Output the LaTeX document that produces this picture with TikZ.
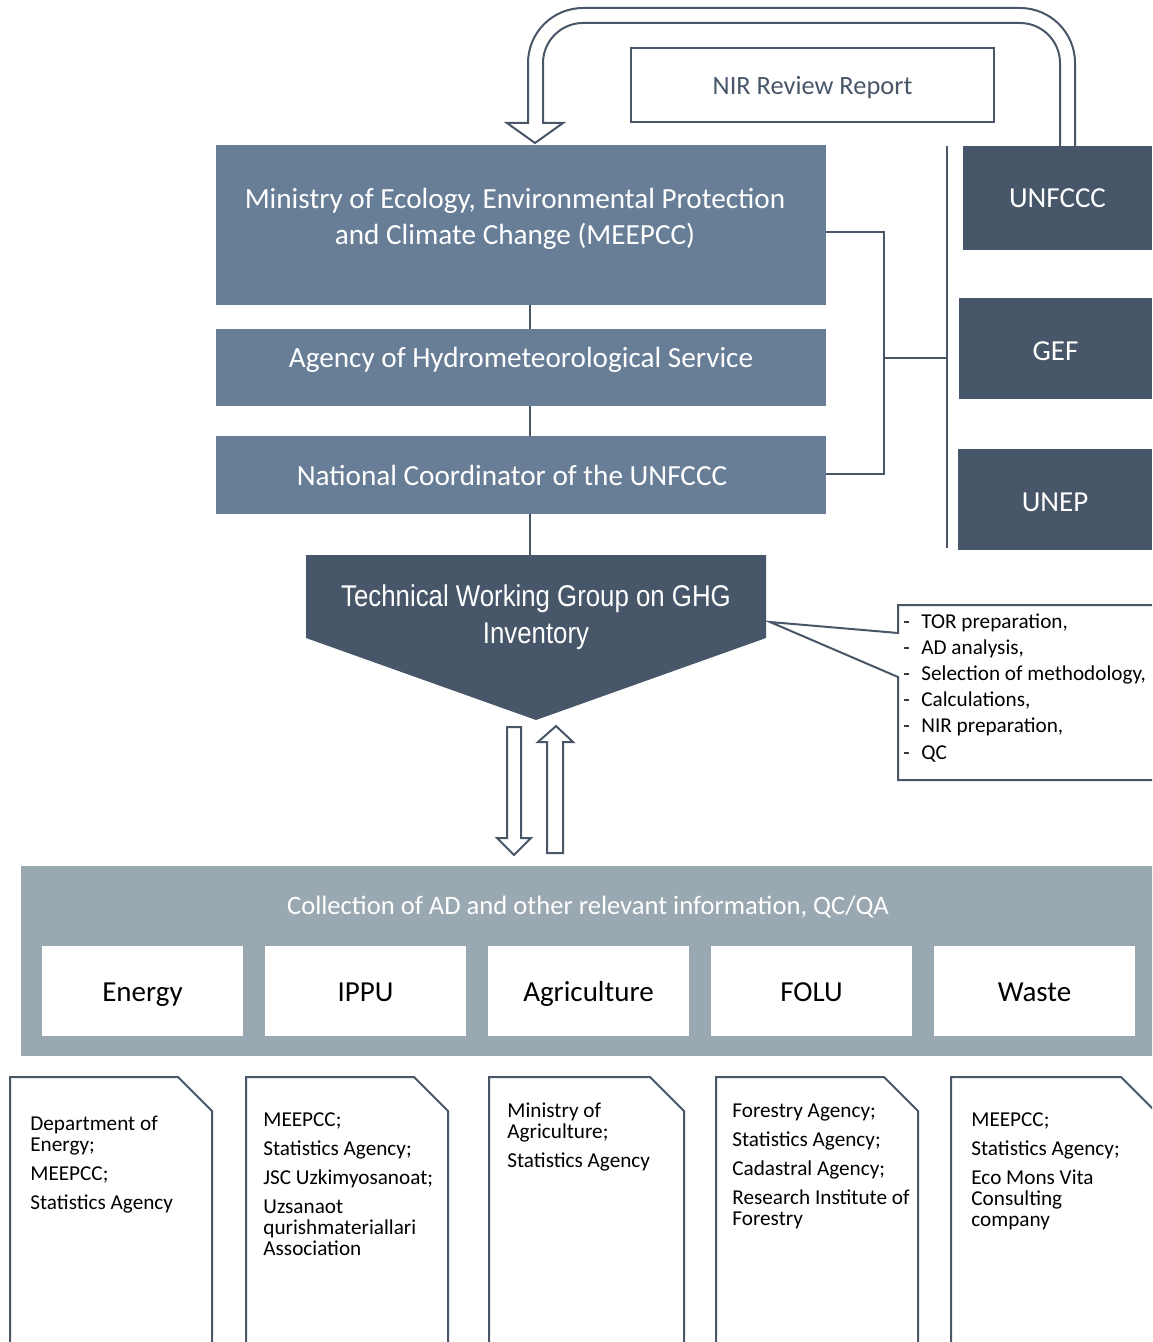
\documentclass[tikz,border=0pt]{standalone}
\usepackage{fontspec}
\setmainfont{Carlito}
\newfontfamily\narrowfont[FakeStretch=0.86]{Liberation Sans}
\usetikzlibrary{positioning}
\definecolor{slate}{RGB}{104,126,151}
\definecolor{darkslate}{RGB}{71,86,104}
\definecolor{panelgrey}{RGB}{154,168,178}
\definecolor{linegrey}{RGB}{72,86,103}

\begin{document}
\begin{tikzpicture}[x=0.5pt,y=-0.5pt,
	conn/.style={draw=linegrey,line width=1.2pt},
	hollow/.style={draw=linegrey,line width=1pt,fill=white},
	midbox/.style={rectangle,fill=slate,minimum width=305pt,inner sep=0pt},
	orgbox/.style={rectangle,fill=darkslate,text=white,inner sep=0pt,font=\fontsize{14.5}{17}\selectfont},
	wtxt/.style={text=white,align=center,font=\fontsize{14.6}{18}\selectfont},
	sector/.style={rectangle,fill=white,minimum width=100.5pt,minimum height=45pt,inner sep=0pt,text height=12pt,text depth=2pt,font=\fontsize{14.5}{17}\selectfont},
	doctxt/.style={anchor=north west,align=left,inner sep=0pt,font=\fontsize{10.6}{10.5}\selectfont},
	docline/.style={draw=linegrey,line width=1pt}]
\useasboundingbox (0,0) rectangle (1152,1342);
\clip (0,0) rectangle (1152,1342);
% national structure
\node[midbox,minimum height=80pt,label={[wtxt,xshift=-3pt,yshift=3.25pt]center:{Ministry of Ecology, Environmental Protection\\and Climate Change (MEEPCC)}}](meepcc) at (521,225){};
\node[midbox,minimum height=38.5pt,label={[wtxt,yshift=4pt]center:{Agency of Hydrometeorological Service}}](hydro) at (521,367.5){};
\node[midbox,minimum height=39pt,label={[wtxt,xshift=-4.5pt,yshift=0pt]center:{National Coordinator of the UNFCCC}}](natco) at (521,475){};
% international partners
\node[orgbox,minimum width=94.5pt,minimum height=52pt](unfccc) at (1057.5,198){UNFCCC};
\node[orgbox,minimum width=96.5pt,minimum height=50.5pt,text height=12pt,text depth=0pt](gef) at (1055.5,348.5){GEF};
\node[orgbox,minimum width=97pt,minimum height=50.5pt,text height=12pt,text depth=0pt](unep) at (1055,499.5){UNEP};
\node[draw=linegrey,line width=1pt,minimum width=181.5pt,minimum height=37pt,text depth=0pt,text=darkslate,font=\fontsize{13.2}{16}\selectfont](nir) at (812.5,85){NIR Review Report};
% working group
\fill[darkslate] (306,555) -- (766,555) -- (766,638) -- (536,720) -- (306,638) -- cycle;
\node[wtxt,font=\narrowfont\fontsize{15}{18.5}\selectfont](twg) at (536,617){Technical Working Group on GHG\\Inventory};
\coordinate (ax) at (530,555);
\draw[conn] (meepcc.south -| ax) -- (hydro.north -| ax);
\draw[conn] (hydro.south -| ax) -- (natco.north -| ax);
\draw[conn] (natco.south -| ax) -- (ax);
\coordinate (bt) at (884,232);
\coordinate (bb) at (884,474);
\coordinate (bm) at (884,358);
\coordinate (vt) at (947,146);
\coordinate (vb) at (947,548);
\draw[conn] (meepcc.east |- bt) -- (bt) -- (bb) -- (natco.east |- bb);
\draw[conn] (bm) -- (bm -| vt);
\draw[conn] (vt) -- (vb);
% review report arrow
\draw[hollow,fill=none] (1060,146) -- (1060,63) .. controls (1060,41) and (1042,23) .. (1020,23) -- (583,23) .. controls (561,23) and (543,41) .. (543,63) -- (543,123) -- (563,123) -- (535,143) -- (507,123) -- (528,123) -- (528,63) .. controls (528,32.6) and (552.6,8) .. (583,8) -- (1020,8) .. controls (1050.4,8) and (1075,32.6) .. (1075,63) -- (1075,146);
% tasks callout
\draw[docline,fill=white] (898,633) -- (770,622) -- (898,677) -- (898,780) -- (1160,780) -- (1160,605) -- (898,605) -- cycle;
\node[doctxt,font=\fontsize{10.6}{13.1}\selectfont](tasks) at (903,613){\makebox[9pt][l]{-}TOR preparation,\\\makebox[9pt][l]{-}AD analysis,\\\makebox[9pt][l]{-}Selection of methodology,\\\makebox[9pt][l]{-}Calculations,\\\makebox[9pt][l]{-}NIR preparation,\\\makebox[9pt][l]{-}QC};
% data exchange
\draw[hollow] (507,727) -- (521,727) -- (521,838) -- (531,838) -- (514,855) -- (497,838) -- (507,838) -- cycle;
\draw[hollow] (547,853) -- (563,853) -- (563,742) -- (573,742) -- (556,726) -- (538,742) -- (547,742) -- cycle;
% data collection
\node[rectangle,fill=panelgrey,minimum width=569.5pt,minimum height=95pt,inner sep=0pt](coll) at (590.5,961){};
\node[text=white,font=\fontsize{13.3}{16}\selectfont](colltitle) at (588,907.5){Collection of AD and other relevant information, QC/QA};
\foreach \nm/\lbl [count=\i] in {energy/Energy,ippu/IPPU,agri/Agriculture,folu/FOLU,waste/Waste}
	\node[sector](\nm) at ({142.5+223*(\i-1)},991){\lbl};
% data providers
\foreach \l/\r in {10/212,246/448,489/684,716/918,951/1155}
	\draw[docline] (\l,1350) -- (\l,1077) -- (\r-34,1077) -- (\r,1111) -- (\r,1350);
\node[doctxt](srcenergy) at (30,1116){Department of\\Energy;\\[4pt]MEEPCC;\\[4pt]Statistics Agency};
\node[doctxt](srcippu) at (263,1112){MEEPCC;\\[4pt]Statistics Agency;\\[4pt]JSC Uzkimyosanoat;\\[4pt]Uzsanaot\\qurishmateriallari\\Association};
\node[doctxt](srcagri) at (507,1103){Ministry of\\Agriculture;\\[4pt]Statistics Agency};
\node[doctxt](srcfolu) at (732,1103){Forestry Agency;\\[4pt]Statistics Agency;\\[4pt]Cadastral Agency;\\[4pt]Research Institute of\\Forestry};
\node[doctxt](srcwaste) at (971,1112){MEEPCC;\\[4pt]Statistics Agency;\\[4pt]Eco Mons Vita\\Consulting\\company};
\end{tikzpicture}
\end{document}
